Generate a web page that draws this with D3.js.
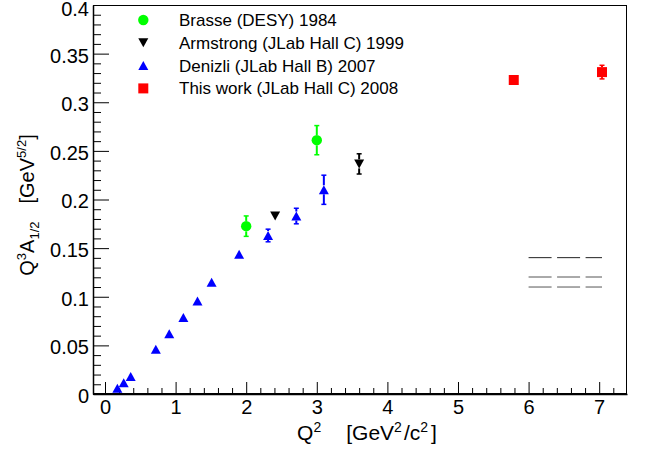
<!DOCTYPE html>
<html>
<head>
<meta charset="utf-8">
<script src="https://cdn.jsdelivr.net/npm/d3@7"></script>
<style>
  html, body { margin: 0; padding: 0; background: #fff; }
  svg { display: block; font-family: "Liberation Sans", Arial, Helvetica, sans-serif; }
</style>
</head>
<body>
<svg id="chart" width="651" height="451"></svg>
<script>
// ---------------- data ----------------
const brasseQ2  = [2.0, 3.0];
const brasseA   = [0.1726, 0.261];
const brasseErr = [0.0105, 0.015];

const armQ2  = [2.41, 3.6];
const armA   = [0.183, 0.2366];
const armErr = [0.003, 0.0104];

const denQ2  = [0.175, 0.265, 0.364, 0.72, 0.91, 1.11, 1.31, 1.51, 1.9, 2.31, 2.71, 3.1];
const denA   = [0.006, 0.0116, 0.018, 0.046, 0.062, 0.0787, 0.0957, 0.115, 0.1436, 0.163, 0.183, 0.210];
const denErr = [0.002, 0.002, 0.002, 0.002, 0.002, 0.002, 0.002, 0.002, 0.003, 0.0065, 0.008, 0.015];

const thisQ2  = [5.79, 7.04];
const thisA   = [0.323, 0.331];
const thisErr = [0.004, 0.007];

const bandQ2 = [6.0, 7.04];
const bandLevels = [0.1402, 0.1203, 0.110];

const xTicks = [0, 1, 2, 3, 4, 5, 6, 7];
const yTicks = [0, 0.05, 0.1, 0.15, 0.2, 0.25, 0.3, 0.35, 0.4];

const legendLabels = [
  "Brasse (DESY) 1984",
  "Armstrong (JLab Hall C) 1999",
  "Denizli (JLab Hall B) 2007",
  "This work (JLab Hall C) 2008"
];

// ---------------- layout ----------------
const svg = d3.select("#chart");
const L = 93, R = 627, T = 5, B = 394;
const x = d3.scaleLinear().domain([-0.17, 7.394]).range([L, R]);
const y = d3.scaleLinear().domain([0, 0.4]).range([B, T]);

// minor ticks
const xMinor = d3.range(-0.2, 7.4001, 0.2).map(v => +v.toFixed(2))
  .filter(v => v >= -0.17 && v <= 7.394 && Math.abs(v - Math.round(v)) > 1e-6);
const yMinor = d3.range(0, 0.4001, 0.01).map(v => +v.toFixed(3))
  .filter(v => Math.abs(v / 0.05 - Math.round(v / 0.05)) > 1e-6);

// x axis
const gx = svg.append("g").attr("transform", `translate(0,${B})`);
gx.call(d3.axisBottom(x).tickValues(xTicks).tickSize(-12).tickSizeOuter(0).tickPadding(6).tickFormat(d3.format("d")));
gx.append("g").call(d3.axisBottom(x).tickValues(xMinor).tickSize(-6).tickSizeOuter(0).tickFormat(""))
  .select(".domain").remove();
gx.selectAll("line").attr("stroke", "#000");
gx.selectAll("text").attr("font-size", 20).attr("fill", "#000").attr("font-family", "Liberation Sans, Arial, sans-serif");

// y axis
const gy = svg.append("g").attr("transform", `translate(${L},0)`);
gy.call(d3.axisLeft(y).tickValues(yTicks).tickSize(-16).tickSizeOuter(0).tickPadding(4)
  .tickFormat(d => d === 0 ? "0" : d3.format("")(+d.toFixed(2))));
gy.append("g").call(d3.axisLeft(y).tickValues(yMinor).tickSize(-8).tickSizeOuter(0).tickFormat(""))
  .select(".domain").remove();
gy.selectAll("line").attr("stroke", "#000");
gy.selectAll("text").attr("font-size", 20).attr("fill", "#000").attr("font-family", "Liberation Sans, Arial, sans-serif")
  .attr("dy", d => d === 0.4 ? "0.52em" : "0.42em");

// frame
svg.append("rect").attr("x", L + 0.5).attr("y", T + 0.5).attr("width", R - L - 1).attr("height", B - T - 1)
  .attr("fill", "none").attr("stroke", "#000").attr("stroke-width", 1);
svg.selectAll(".domain").attr("stroke", "#000").attr("stroke-width", 1.5);

// axis titles
const xt = svg.append("text").attr("x", 367).attr("y", 440).attr("text-anchor", "middle")
  .attr("font-size", 21).attr("fill", "#000");
xt.append("tspan").text("Q");
xt.append("tspan").attr("font-size", 14).attr("dy", -8).text("2");
xt.append("tspan").attr("dy", 8).attr("dx", 25).text("[GeV");
xt.append("tspan").attr("font-size", 14).attr("dy", -8).text("2");
xt.append("tspan").attr("dy", 8).attr("dx", 2).text("/c");
xt.append("tspan").attr("font-size", 14).attr("dy", -8).text("2");
xt.append("tspan").attr("dy", 8).attr("dx", 3).text("]");

const yt = svg.append("text").attr("transform", "translate(34,205) rotate(-90)").attr("text-anchor", "middle")
  .attr("font-size", 20).attr("fill", "#000");
yt.append("tspan").text("Q");
yt.append("tspan").attr("font-size", 13).attr("dy", -8).text("3");
yt.append("tspan").attr("dy", 8).text("A");
yt.append("tspan").attr("font-size", 13).attr("dy", 5).text("1/2");
yt.append("tspan").attr("dy", -5).attr("dx", 18).text("[GeV");
yt.append("tspan").attr("font-size", 13).attr("dy", -8).text("5/2");
yt.append("tspan").attr("dy", 8).text("]");

// dashed band lines
svg.append("g").selectAll("line").data(bandLevels).join("line")
  .attr("x1", x(bandQ2[0])).attr("x2", x(bandQ2[1]))
  .attr("y1", d => y(d)).attr("y2", d => y(d))
  .attr("stroke", (d, i) => i === 0 ? "#222" : "#555").attr("stroke-width", 1)
  .attr("stroke-dasharray", "23,5.5");

// markers
const MS = { circle: 5.2, up: 4.5, down: 4.5, square: 5 };
function markerPath(type, cx, cy) {
  if (type === "up") return `M${cx - 5},${cy + 4.5}L${cx + 5},${cy + 4.5}L${cx},${cy - 4.5}Z`;
  if (type === "down") return `M${cx - 5},${cy - 4.5}L${cx + 5},${cy - 4.5}L${cx},${cy + 4.5}Z`;
  if (type === "square") return `M${cx - 5},${cy - 5}h10v10h-10Z`;
  return null;
}

function drawSeries(qs, as, es, color, type) {
  const g = svg.append("g");
  const data = qs.map((q, i) => ({ q, a: as[i], e: es[i] }));
  const half = MS[type];
  // error bars (drawn only outside the marker, as ROOT does)
  data.forEach(d => {
    const px = x(d.q), py = y(d.a), yTop = y(d.a + d.e), yBot = y(d.a - d.e);
    if (py - yTop > half + 0.5) {
      g.append("line").attr("x1", px).attr("x2", px).attr("y1", yTop).attr("y2", py - half)
        .attr("stroke", color).attr("stroke-width", 2);
      g.append("line").attr("x1", px - 2.5).attr("x2", px + 2.5).attr("y1", yTop).attr("y2", yTop)
        .attr("stroke", color).attr("stroke-width", 1.5);
    }
    if (yBot - py > half + 0.5) {
      g.append("line").attr("x1", px).attr("x2", px).attr("y1", py + half).attr("y2", yBot)
        .attr("stroke", color).attr("stroke-width", 2);
      g.append("line").attr("x1", px - 2.5).attr("x2", px + 2.5).attr("y1", yBot).attr("y2", yBot)
        .attr("stroke", color).attr("stroke-width", 1.5);
    }
  });
  data.forEach(d => {
    const px = x(d.q), py = y(d.a);
    if (type === "circle") {
      g.append("circle").attr("cx", px).attr("cy", py).attr("r", 5.2).attr("fill", color);
    } else {
      g.append("path").attr("d", markerPath(type, px, py)).attr("fill", color);
    }
  });
}

drawSeries(denQ2, denA, denErr, "#0000ff", "up");
drawSeries(brasseQ2, brasseA, brasseErr, "#00ff00", "circle");
drawSeries(armQ2, armA, armErr, "#000000", "down");
drawSeries(thisQ2, thisA, thisErr, "#ff0000", "square");

// legend
const legColors = ["#00ff00", "#000000", "#0000ff", "#ff0000"];
const legTypes = ["circle", "down", "up", "square"];
const leg = svg.append("g");
legendLabels.forEach((lab, i) => {
  const cy = 20 + i * 22.8, cx = 143.3;
  if (legTypes[i] === "circle") leg.append("circle").attr("cx", cx).attr("cy", cy).attr("r", 5.2).attr("fill", legColors[i]);
  else leg.append("path").attr("d", markerPath(legTypes[i], cx, cy)).attr("fill", legColors[i]);
  leg.append("text").attr("x", 179).attr("y", cy + 6).attr("font-size", 17).attr("fill", "#000").text(lab);
});
</script>
</body>
</html>
